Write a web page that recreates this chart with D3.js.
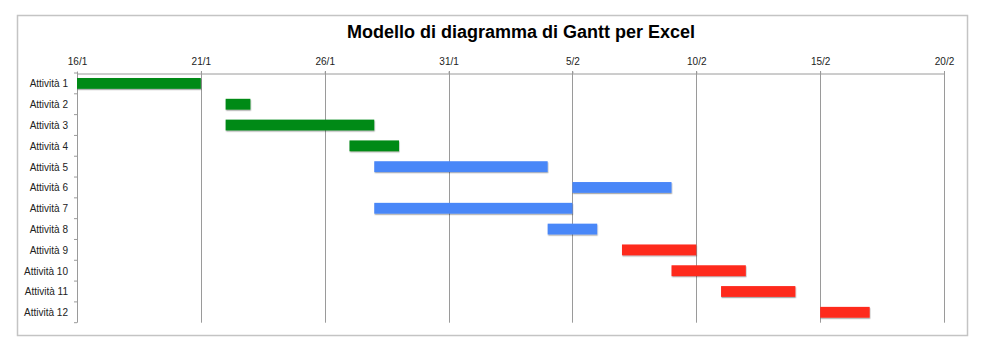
<!DOCTYPE html>
<html><head><meta charset="utf-8">
<script src="https://cdn.jsdelivr.net/npm/d3@7"></script>
<style>
html,body{margin:0;padding:0;background:#fff;}
svg{display:block;font-family:"Liberation Sans",Arial,sans-serif;}
</style></head>
<body><svg id="c" width="987" height="356"></svg>
<script>
const title = "Modello di diagramma di Gantt per Excel";
const tasks = ["Attività 1","Attività 2","Attività 3","Attività 4","Attività 5","Attività 6","Attività 7","Attività 8","Attività 9","Attività 10","Attività 11","Attività 12"];
const starts = ["2015-01-16","2015-01-22","2015-01-22","2015-01-27","2015-01-28","2015-02-05","2015-01-28","2015-02-04","2015-02-07","2015-02-09","2015-02-11","2015-02-15"];
const durations = [5,1,6,2,7,4,8,2,3,3,3,2];
const groups = ["g","g","g","g","b","b","b","b","r","r","r","r"];
const tickDates = ["2015-01-16","2015-01-21","2015-01-26","2015-01-31","2015-02-05","2015-02-10","2015-02-15","2015-02-20"];
const colors = {g:"#018a18", b:"#4a87f8", r:"#fe2a1f"};

const svg = d3.select("#c");
const parse = d3.utcParse("%Y-%m-%d");
const fmt = d3.utcFormat("%-d/%-m");
const L=77, R=944, T=73, B=322.7;

svg.append("rect").attr("x",17.5).attr("y",15.5).attr("width",950).attr("height",320)
  .attr("fill","#fff").attr("stroke","#c4c4c4").attr("stroke-width",1.5);

const defs = svg.append("defs");
const f = defs.append("filter").attr("id","sh").attr("x","-5%").attr("y","-30%").attr("width","110%").attr("height","180%");
f.append("feDropShadow").attr("dx",0.5).attr("dy",1.2).attr("stdDeviation",0.7).attr("flood-color","#000").attr("flood-opacity",0.35);

const ticks = tickDates.map(parse);
const x = d3.scaleUtc().domain([ticks[0], ticks[ticks.length-1]]).range([L,R]);
const y = d3.scaleBand().domain(tasks).range([T,B]).paddingInner(0.48).paddingOuter(0.24);

// gridlines
svg.append("g").selectAll("line").data(ticks.slice(1)).join("line")
  .attr("x1",d=>Math.round(x(d))+0.5).attr("x2",d=>Math.round(x(d))+0.5)
  .attr("y1",T-2).attr("y2",B).attr("stroke","#9a9a9a").attr("stroke-width",1);

// top axis
const xa = svg.append("g").attr("transform",`translate(0,${T+0.5})`)
  .call(d3.axisTop(x).tickValues(ticks).tickFormat(fmt).tickSize(2).tickSizeOuter(0));
xa.select(".domain").attr("stroke","#9a9a9a");
xa.selectAll(".tick line").attr("stroke","#9a9a9a");
xa.selectAll("text").attr("font-size",10).attr("fill","#222").attr("dy","-0.35em");

// left axis line & band ticks
const bw = (B-T)/tasks.length;
svg.append("line").attr("x1",L+0.5).attr("x2",L+0.5).attr("y1",T).attr("y2",B).attr("stroke","#9a9a9a");
svg.append("g").selectAll("line").data(d3.range(tasks.length+1)).join("line")
  .attr("x1",L-3).attr("x2",L).attr("y1",i=>T+i*bw).attr("y2",i=>T+i*bw)
  .attr("stroke","#9a9a9a");
svg.append("g").selectAll("text").data(tasks).join("text")
  .attr("x",68).attr("y",d=>T+(tasks.indexOf(d)+0.5)*bw+0.5).attr("dy","0.35em")
  .attr("text-anchor","end").attr("font-size",10).attr("fill","#222").text(d=>d);

// bars
svg.append("g").attr("filter","url(#sh)").selectAll("rect").data(tasks).join("rect")
  .attr("x",(d,i)=>x(parse(starts[i])))
  .attr("width",(d,i)=>x(d3.utcDay.offset(parse(starts[i]),durations[i]))-x(parse(starts[i])))
  .attr("y",d=>y(d)).attr("height",y.bandwidth())
  .attr("fill",(d,i)=>colors[groups[i]]);

svg.append("text").attr("x",521).attr("y",38).attr("text-anchor","middle")
  .attr("font-size",18).attr("font-weight","bold").attr("fill","#000").text(title);
</script></body></html>
